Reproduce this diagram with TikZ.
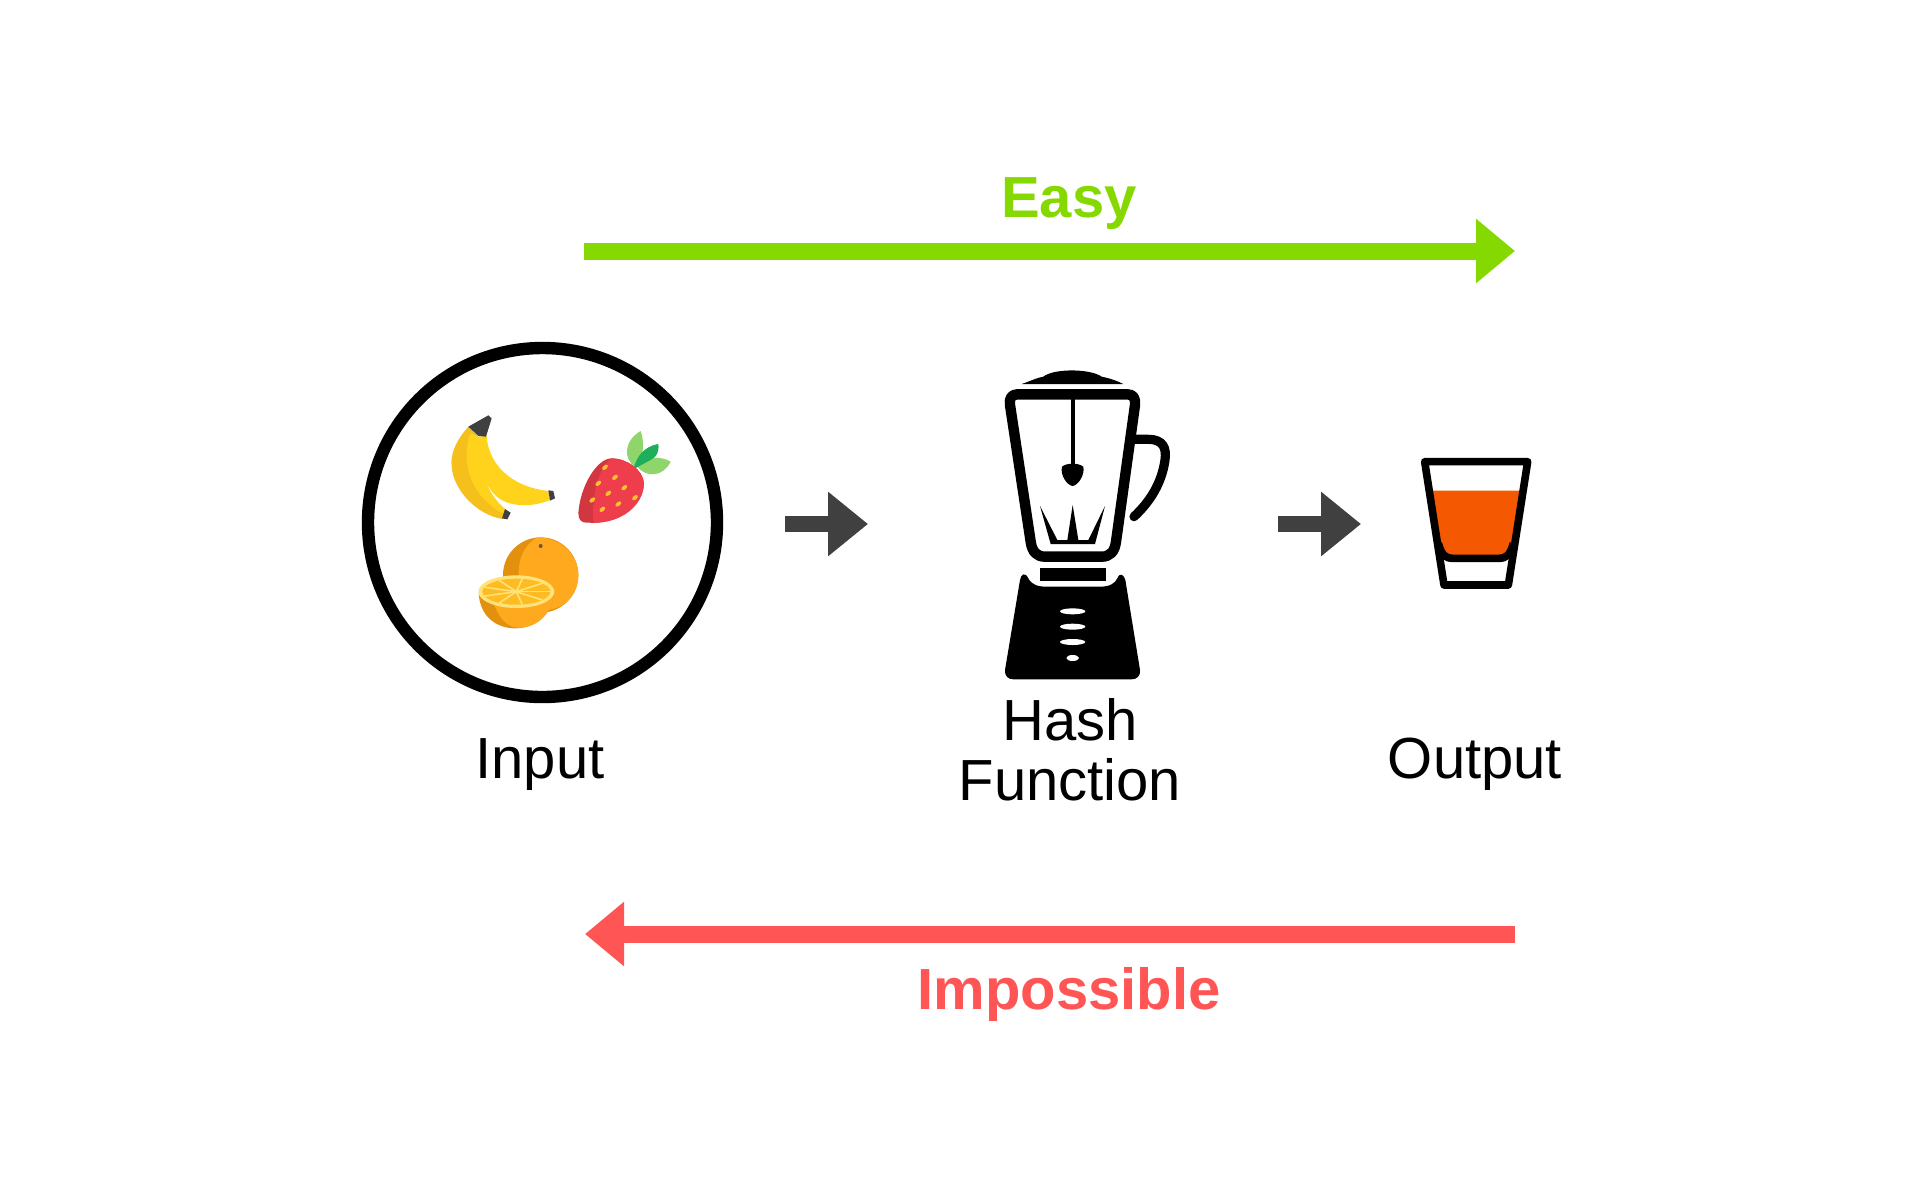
\documentclass[tikz,border=0pt]{standalone}
\usepackage{fontspec}
\setmainfont{Liberation Sans}
\usetikzlibrary{arrows.meta}
\definecolor{easygreen}{HTML}{86D900}
\definecolor{hardred}{HTML}{FF5555}
\definecolor{flowgray}{HTML}{404040}
\definecolor{juice}{HTML}{F45800}
\definecolor{bananadark}{HTML}{F5C01C}
\definecolor{bananalight}{HTML}{FFD31C}
\definecolor{berrydark}{HTML}{D2373F}
\definecolor{berrylight}{HTML}{EE3E4C}
\definecolor{leaflight}{HTML}{90D56C}
\definecolor{leafdark}{HTML}{1FAE5B}
\definecolor{peeldark}{HTML}{E4900F}
\definecolor{peellight}{HTML}{FFA91F}
\definecolor{rimpale}{HTML}{FFE27A}
\definecolor{pulp}{HTML}{FFBC22}
\definecolor{seedcol}{HTML}{F8C52A}
\tikzset{
  label/.style={font=\fontsize{29}{30}\selectfont,align=center,inner sep=0pt},
  slot/.style={minimum height=30pt,inner sep=0pt,outer sep=0pt},
  flow/.style={flowgray,line width=8pt,-{Triangle[length=20pt,width=31pt]}},
  bigarrow/.style={line width=8.5pt,-{Triangle[length=19.5pt,width=31pt]}},
  seed/.style={fill=seedcol}
}
\begin{document}
\begin{tikzpicture}[x=0.5pt,y=-0.5pt]
\useasboundingbox (0,0) rectangle (1920,1200);

% Input circle
\draw[line width=6.2pt] (542.5,522.5) circle[radius=174.5];

% Banana
\begin{scope}[shift={(350,330)},scale=1/3]
\fill[bananadark] (355,290) .. controls (320,330) and (300,370) .. (305,410)
  .. controls (310,480) and (380,555) .. (458,567) -- (468,540)
  .. controls (420,500) and (385,440) .. (385,320) -- cycle;
\fill[bananalight] (362,310) .. controls (330,390) and (360,500) .. (462,552) -- (468,540)
  .. controls (420,500) and (385,440) .. (385,320) -- cycle;
\fill[bananalight] (385,320) -- (410,318) .. controls (415,400) and (480,470) .. (595,483)
  -- (600,510) .. controls (540,535) and (470,530) .. (435,495)
  .. controls (395,455) and (375,390) .. (385,320) -- cycle;
\fill[flowgray] (355,290) -- (415,256) -- (425,265) -- (408,320) -- (385,318) -- cycle;
\fill[flowgray] (595,481) -- (610,483) -- (615,505) -- (600,512) -- cycle;
\fill[flowgray] (465,537) -- (482,548) -- (472,568) -- (456,565) -- cycle;

% Strawberry
\fill[leaflight] (858,412) .. controls (815,385) and (825,330) .. (872,303)
  .. controls (885,340) and (880,385) .. (858,412) -- cycle;
\fill[leaflight] (862,410) .. controls (900,375) and (935,380) .. (962,395)
  .. controls (940,440) and (890,445) .. (862,410) -- cycle;
\fill[leafdark] (850,418) .. controls (860,380) and (880,350) .. (925,342)
  .. controls (928,365) and (920,380) .. (905,388) -- cycle;
\fill[berrydark] (785,385) .. controls (740,385) and (690,470) .. (685,550)
  .. controls (685,570) and (695,580) .. (715,578) .. controls (800,585) and (880,530) .. (882,460)
  .. controls (880,420) and (830,385) .. (785,385) -- cycle;
\fill[berrylight] (785,385) .. controls (750,410) and (725,480) .. (730,578)
  .. controls (810,580) and (880,530) .. (882,460) .. controls (880,420) and (830,385) .. (785,385) -- cycle;
\foreach \x/\y in {765/412,795/442,745/460,823/473,775/490,855/503,727/510,805/522,757/538}
  \fill[seed,rotate around={40:(\x,\y)}] (\x,\y) ellipse[x radius=10,y radius=6];

% Orange
\fill[peeldark] (572,735) circle[radius=113];
\fill[peellight] (560,623) .. controls (500,660) and (490,740) .. (530,835)
  .. controls (620,860) and (685,810) .. (685,735) .. controls (685,670) and (625,620) .. (560,623) -- cycle;
\fill[flowgray!70!orange] (572,648) circle[radius=6];
\fill[peeldark] (386,790) .. controls (390,860) and (440,895) .. (495,895)
  .. controls (570,895) and (610,840) .. (612,785) -- cycle;
\fill[peellight] (425,800) .. controls (440,860) and (470,890) .. (500,893)
  .. controls (570,895) and (610,840) .. (612,785) -- cycle;
\fill[rimpale] (499,785) ellipse[x radius=114,y radius=49];
\fill[pulp] (499,785) ellipse[x radius=102,y radius=39];
\foreach \a in {0,40,...,320}
  \draw[rimpale,line width=0.8pt] (499,785) -- ({499+102*cos(\a)},{785+39*sin(\a)});
\end{scope}

% Blender
\begin{scope}[shift={(960,350)},scale=1/3]
\fill (185,102) .. controls (215,92) and (225,85) .. (250,80)
  .. controls (280,55) and (390,55) .. (425,80) .. controls (450,85) and (470,92) .. (490,102) -- cycle;
\draw[line width=5.2pt,line join=round] (172,133) -- (503,133) .. controls (520,133) and (527,145) .. (525,165)
  -- (468,575) .. controls (464,605) and (450,620) .. (425,620)
  -- (255,620) .. controls (230,620) and (216,605) .. (212,575)
  -- (150,165) .. controls (147,145) and (155,133) .. (172,133) -- cycle;
\draw[line width=4.6pt,line cap=round] (525,268) -- (565,268) .. controls (610,268) and (620,295) .. (615,330)
  .. controls (605,400) and (570,455) .. (522,500);
\draw[line width=2pt] (338,145) -- (338,345);
\fill (306,350) .. controls (320,338) and (355,338) .. (370,350)
  .. controls (375,375) and (355,405) .. (338,408) .. controls (320,405) and (300,375) .. (306,350) -- cycle;
\fill (240,468) -- (272,582) -- (405,582) -- (435,468) -- (385,570) -- (355,570)
  -- (338,465) -- (322,570) -- (292,570) -- cycle;
\fill (240,653) rectangle (437,693);
\fill (135,960) -- (180,690) .. controls (183,672) and (195,665) .. (205,685)
  .. controls (215,705) and (235,710) .. (260,710) -- (420,710)
  .. controls (450,710) and (465,700) .. (472,685) .. controls (480,665) and (492,675) .. (496,690)
  -- (540,960) .. controls (542,978) and (530,988) .. (515,988) -- (160,988)
  .. controls (145,988) and (133,978) .. (135,960) -- cycle;
\foreach \y in {784,830,876}
  \fill[white] (338,\y) ellipse[x radius=38,y radius=9];
\fill[white] (338,924) ellipse[x radius=19,y radius=9];
\end{scope}

% Glass
\begin{scope}[shift={(1260,430)},scale=1/3]
\fill[juice] (515,182) -- (780,182) -- (760,320) .. controls (755,365) and (740,378) .. (715,378)
  -- (580,378) .. controls (555,378) and (542,365) .. (535,320) -- cycle;
\draw[line width=3.8pt,line join=round] (494,95) -- (803,95) -- (745,465) -- (552,465) -- cycle;
\draw[line width=3.8pt] (535,340) .. controls (545,375) and (555,385) .. (580,385) -- (715,385)
  .. controls (740,385) and (750,375) .. (760,340);
\end{scope}

% Slots and flow arrows
\node[slot,minimum width=242.5pt] (inslot) at (542.5,524) {};
\node[slot,minimum width=205pt] (hashslot) at (1073,524) {};
\node[slot,minimum width=114pt] (outslot) at (1475,524) {};
\draw[flow] (inslot) -- (hashslot);
\draw[flow] (hashslot) -- (outslot);

% Labels
\node[label] (inputlab) at (540,765) {Input};
\node[label] (hashlab) at (1070,750) {Hash\\Function};
\node[label] (outputlab) at (1475,764) {Output};

% Easy and impossible
\coordinate (easyA) at (584,251);
\coordinate (easyB) at (1515,251);
\coordinate (hardA) at (1515,934);
\coordinate (hardB) at (585,934);
\draw[bigarrow,easygreen] (easyA) -- (easyB);
\draw[bigarrow,hardred] (hardA) -- (hardB);
\node[label,text=easygreen,font=\fontsize{29}{30}\selectfont\bfseries] (easylab) at (1069,204) {Easy};
\node[label,text=hardred,font=\fontsize{29}{30}\selectfont\bfseries] (hardlab) at (1069,994) {Impossible};
\end{tikzpicture}
\end{document}
